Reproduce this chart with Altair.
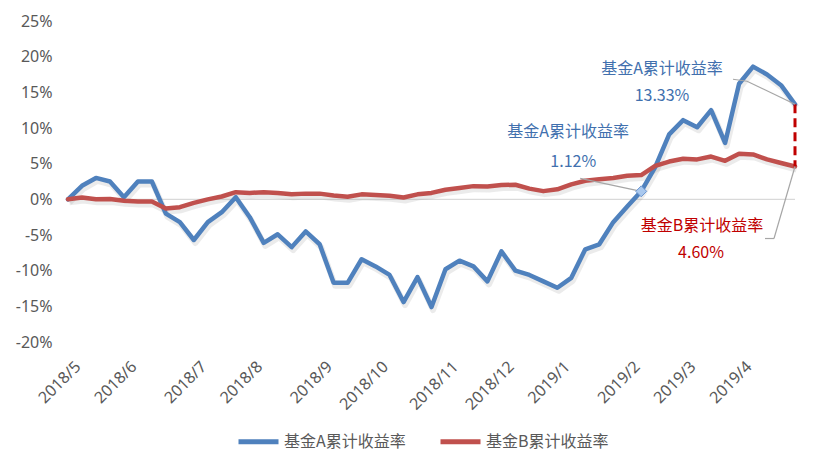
import altair as alt
import pandas as pd

# ---------------- data ----------------
series_names = ["基金A累计收益率", "基金B累计收益率"]

fund_a = [0.0, 1.9, 3.0, 2.5, 0.3, 2.5, 2.5, -2.0, -3.2, -5.7,
          -3.2, -1.8, 0.3, -2.5, -6.1, -4.9, -6.7, -4.5, -6.3, -11.7,
          -11.7, -8.4, -9.4, -10.6, -14.4, -10.9, -15.1, -9.8, -8.6, -9.4,
          -11.5, -7.3, -10.0, -10.6, -11.5, -12.4, -11.0, -7.0, -6.3, -3.2,
          -1.0, 1.12, 4.5, 9.1, 11.1, 10.1, 12.5, 7.9, 16.2, 18.6,
          17.5, 16.0, 13.33]

fund_b = [0.0, 0.25, 0.0, 0.05, -0.2, -0.3, -0.3, -1.3, -1.1, -0.5,
          0.0, 0.4, 1.0, 0.9, 1.0, 0.9, 0.7, 0.8, 0.8, 0.55,
          0.35, 0.7, 0.6, 0.5, 0.25, 0.7, 0.9, 1.35, 1.6, 1.85,
          1.8, 2.0, 2.05, 1.5, 1.15, 1.4, 2.1, 2.6, 2.8, 3.0,
          3.3, 3.4, 4.7, 5.3, 5.7, 5.6, 6.0, 5.4, 6.4, 6.3,
          5.6, 5.1, 4.60]

month_labels = ["2018/5", "2018/6", "2018/7", "2018/8", "2018/9", "2018/10",
                "2018/11", "2018/12", "2019/1", "2019/2", "2019/3", "2019/4"]
month_index = [0, 4, 9, 13, 18, 22, 27, 31, 35, 40, 44, 48]

y_ticks = [-20, -15, -10, -5, 0, 5, 10, 15, 20, 25]

mid_index = 41  # highlighted point of fund A

# ---------------- tables ----------------
n = len(fund_a)
df = pd.DataFrame({
    "i": list(range(n)) * 2,
    "v": fund_a + fund_b,
    "s": [series_names[0]] * n + [series_names[1]] * n,
})

last = n - 1
end_df = pd.DataFrame({"i": [last], "v": [fund_a[last]], "b": [fund_b[last]]})
a_end = pd.DataFrame({"i": [last], "v": [fund_a[last]], "name": [series_names[0]],
                      "txt": [f"{fund_a[last]:.2f}%"]})
a_mid = pd.DataFrame({"i": [mid_index], "v": [fund_a[mid_index]], "name": [series_names[0]],
                      "txt": [f"{fund_a[mid_index]:.2f}%"]})
b_end = pd.DataFrame({"i": [last], "v": [fund_b[last]], "name": [series_names[1]],
                      "txt": [f"{fund_b[last]:.2f}%"]})
zero_df = pd.DataFrame({"v": [0]})

label_map = "{" + ",".join(f"'{k}':'{m}'" for k, m in zip(month_index, month_labels)) + "}"

FONT = "Noto Sans CJK SC"
AXIS_FONT = "Noto Sans"
BLUE = "#4F81BD"
RED = "#C0504D"
BLUE_TXT = "#4170AE"
RED_TXT = "#C00000"
GREY = "#595959"

x_scale = alt.Scale(domain=[0, last], nice=False, zero=False)
x_axis = alt.Axis(values=month_index, labelExpr=f"{label_map}[''+datum.value]",
                  labelAngle=-45, labelAlign="right", labelBaseline="top",
                  labelPadding=16, labelOffset=4, labelFontSize=16,
                  labelFont=AXIS_FONT, labelColor=GREY, domain=False,
                  ticks=False, grid=False, title=None, labelOverlap=False)
y_scale = alt.Scale(domain=[-20, 25], nice=False, zero=False)
y_axis = alt.Axis(values=y_ticks, labelExpr="datum.value + '%'",
                  labelFontSize=16, labelFont=AXIS_FONT, labelColor=GREY,
                  labelPadding=16, domain=False, ticks=False, grid=False,
                  title=None, labelOverlap=False)

X = alt.X("i:Q", scale=x_scale, axis=x_axis)
Y = alt.Y("v:Q", scale=y_scale, axis=y_axis)

zero_line = alt.Chart(zero_df).mark_rule(color="#D9D9D9", strokeWidth=1.3).encode(y=Y)

shadow = alt.Chart(df).mark_line(strokeWidth=6, color="#808080", opacity=0.16,
                                 xOffset=1.5, yOffset=3, strokeJoin="round").encode(
    x=X, y=Y, detail="s:N")

lines = alt.Chart(df).mark_line(strokeWidth=4.5, strokeJoin="round", strokeCap="round").encode(
    x=X, y=Y,
    color=alt.Color("s:N", scale=alt.Scale(domain=series_names, range=[BLUE, RED]),
                    legend=alt.Legend(title=None, orient="none", direction="horizontal",
                                      legendX=168, legendY=398,
                                      symbolType="stroke", symbolStrokeWidth=5,
                                      symbolSize=1600, labelFontSize=16, labelFont=FONT,
                                      labelColor=GREY, labelOffset=3, columnPadding=24)),
    order="i:Q")

dash = alt.Chart(end_df).mark_rule(color=RED_TXT, strokeWidth=3, strokeDash=[9, 5]).encode(
    x=X, y=Y, y2="b:Q")


def leader(data, x2o, y2o, xo=0, yo=0):
    return alt.Chart(data).mark_rule(color="#A6A6A6", strokeWidth=1.2,
                                     xOffset=xo, yOffset=yo,
                                     x2Offset=x2o, y2Offset=y2o).encode(
        x=X, y=Y, x2="i:Q", y2="v:Q")


def label(data, field, dx, dy, color):
    return alt.Chart(data).mark_text(font=FONT, fontSize=16, color=color, dx=dx, dy=dy,
                                     align="center", baseline="middle").encode(
        x=X, y=Y, text=f"{field}:N")


marker = alt.Chart(a_mid).mark_point(shape="diamond", filled=True, size=120,
                                     fill="#A9C8EE", stroke="#6D98D2", strokeWidth=1,
                                     opacity=1).encode(x=X, y=Y)

layers = [
    zero_line, shadow, lines, dash,
    leader(a_end, -48, -23), leader(a_end, -62, -25, -48, -23),
    leader(a_mid, -61, -13),
    leader(b_end, -21, 72), leader(b_end, -30, 72, -21, 72),
    marker,
    label(a_end, "name", -133, -35, BLUE_TXT), label(a_end, "txt", -133, -8, BLUE_TXT),
    label(a_mid, "name", -73, -59, BLUE_TXT), label(a_mid, "txt", -68, -29, BLUE_TXT),
    label(b_end, "name", -93, 59, RED_TXT), label(b_end, "txt", -94, 86, RED_TXT),
]

chart = alt.layer(*layers).properties(
    width=727, height=321,
    padding={"left": 68, "top": 21, "right": 32, "bottom": 128},
    autosize=alt.AutoSizeParams(type="none"),
    background="white",
).configure_view(stroke=None)

chart.save("out.html", embed_options={"renderer": "svg", "actions": False})
